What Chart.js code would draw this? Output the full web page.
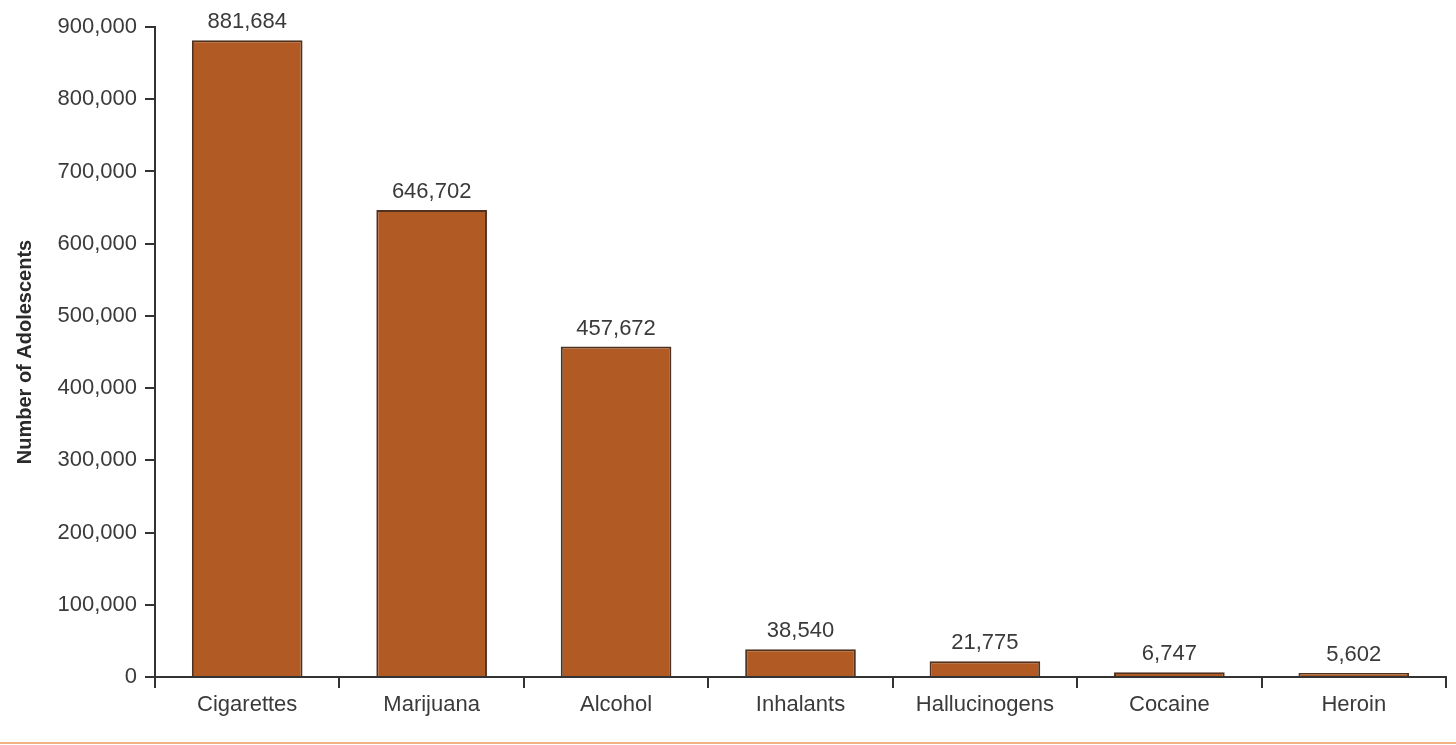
<!DOCTYPE html>
<html>
<head>
<meta charset="utf-8">
<script src="https://cdn.jsdelivr.net/npm/chart.js@4.4.1/dist/chart.umd.min.js"></script>
<style>
  html, body { margin: 0; padding: 0; background: #fff; }
  #drugChart { display: block; }
</style>
</head>
<body>
<canvas id="drugChart" width="1456" height="745"></canvas>
<script>
// Substances and number of adolescents
const substances = ['Cigarettes', 'Marijuana', 'Alcohol', 'Inhalants', 'Hallucinogens', 'Cocaine', 'Heroin'];
const adolescents = [881684, 646702, 457672, 38540, 21775, 6747, 5602];
const yTicks = [0, 100000, 200000, 300000, 400000, 500000, 600000, 700000, 800000, 900000];

const fontFamily = '"Liberation Sans Narrow", "Liberation Sans", Arial, sans-serif';
const textColor = '#3a3a3a';
const axisColor = '#333333';

const fmt = (v) => v.toLocaleString('en-US');

// Value labels above each bar
const valueLabels = {
    id: 'valueLabels',
    afterDatasetsDraw(chart) {
        const ctx = chart.ctx;
        const meta = chart.getDatasetMeta(0);
        ctx.save();
        ctx.font = '22px ' + fontFamily;
        ctx.fillStyle = textColor;
        ctx.textAlign = 'center';
        ctx.textBaseline = 'bottom';
        meta.data.forEach((bar, i) => {
            ctx.fillText(fmt(adolescents[i]), bar.x, bar.y - 7);
        });
        ctx.restore();
    }
};

// Thin orange rule along the bottom edge
const bottomRule = {
    id: 'bottomRule',
    afterDraw(chart) {
        const ctx = chart.ctx;
        ctx.save();
        ctx.fillStyle = '#f1b383';
        ctx.fillRect(0, chart.height - 3, chart.width, 2);
        ctx.restore();
    }
};

const ctx = document.getElementById('drugChart').getContext('2d');
new Chart(ctx, {
    type: 'bar',
    data: {
        labels: substances,
        datasets: [{
            data: adolescents,
            backgroundColor: '#b25a23',
            borderColor: '#4f321f',
            borderWidth: 2,
            borderSkipped: 'bottom',
            categoryPercentage: 0.6,
            barPercentage: 1
        }]
    },
    options: {
        responsive: false,
        animation: false,
        layout: { padding: { top: 27, right: 10, left: 0, bottom: 0 } },
        plugins: {
            legend: { display: false },
            tooltip: { enabled: false }
        },
        scales: {
            x: {
                offset: true,
                grid: {
                    offset: true,
                    drawOnChartArea: false,
                    drawTicks: true,
                    tickLength: 11,
                    color: axisColor,
                    lineWidth: 2
                },
                border: { color: axisColor, width: 2 },
                ticks: {
                    color: textColor,
                    font: { family: fontFamily, size: 22 },
                    padding: 4,
                    maxRotation: 0
                },
                afterFit(scale) { scale.height = 68; }
            },
            y: {
                min: 0,
                max: 900000,
                afterBuildTicks(scale) { scale.ticks = yTicks.map(v => ({ value: v })); },
                grid: {
                    drawOnChartArea: false,
                    drawTicks: true,
                    tickLength: 10,
                    color: axisColor,
                    lineWidth: 2
                },
                border: { color: axisColor, width: 2 },
                ticks: {
                    color: textColor,
                    font: { family: fontFamily, size: 22 },
                    padding: 8,
                    callback: (v) => fmt(v)
                },
                title: {
                    display: true,
                    text: 'Number of Adolescents',
                    color: '#2a2a2a',
                    font: { family: fontFamily, size: 20, weight: 'bold' },
                    padding: { top: 13, bottom: 4 }
                },
                afterFit(scale) { scale.width = 155; }
            }
        }
    },
    plugins: [valueLabels, bottomRule]
});
</script>
</body>
</html>
